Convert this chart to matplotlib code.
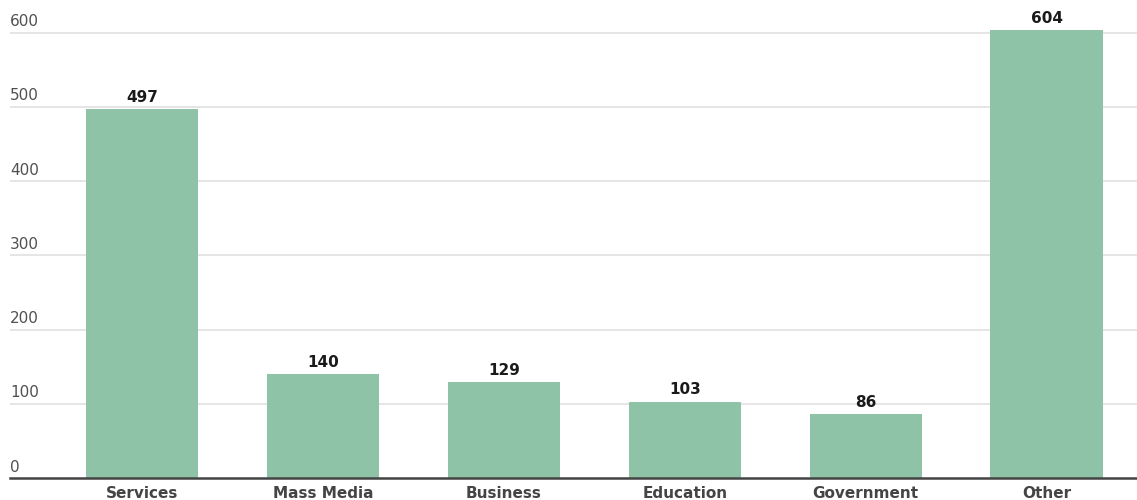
import matplotlib.pyplot as plt
from matplotlib import transforms

categories = ['Services', 'Mass Media', 'Business', 'Education', 'Government', 'Other']
values = [497, 140, 129, 103, 86, 604]
y_ticks = [0, 100, 200, 300, 400, 500, 600]

plt.rcParams['font.family'] = ['DejaVu Sans']

fig = plt.figure(figsize=(11.37, 5.0), dpi=100)
ax = fig.add_axes([10 / 1137, 22 / 500, 1 - 10 / 1137, 478 / 500])

x = list(range(len(categories)))
bars = ax.bar(x, values, width=0.62, color='#8fc3a8', zorder=2)

ax.set_xlim(-0.73, 5.5)
ax.set_ylim(0, 644)

# gridlines, with the tick labels sitting on top of them at the left edge
for t in y_ticks[1:]:
    ax.axhline(t, color='#e3e3e3', lw=1.3, zorder=1)
trans = transforms.blended_transform_factory(ax.transAxes, ax.transData)
for t in y_ticks:
    ax.annotate(str(t), xy=(0, t), xycoords=trans, xytext=(0, 2.5),
                textcoords='offset points', ha='left', va='bottom',
                fontsize=11, color='#505050')

for b, v in zip(bars, values):
    ax.annotate(str(v), xy=(b.get_x() + b.get_width() / 2, v),
                xytext=(0, 3), textcoords='offset points',
                ha='center', va='bottom', fontsize=11, fontweight='bold',
                color='#1a1a1a')

ax.set_yticks([])
ax.set_xticks(x)
ax.set_xticklabels(categories, fontsize=11, fontweight='bold', color='#444444')
ax.tick_params(axis='x', length=0, pad=6)

for s in ['top', 'right', 'left']:
    ax.spines[s].set_visible(False)
ax.spines['bottom'].set_color('#444444')
ax.spines['bottom'].set_linewidth(1.8)

fig.savefig('out.png', dpi=100)
